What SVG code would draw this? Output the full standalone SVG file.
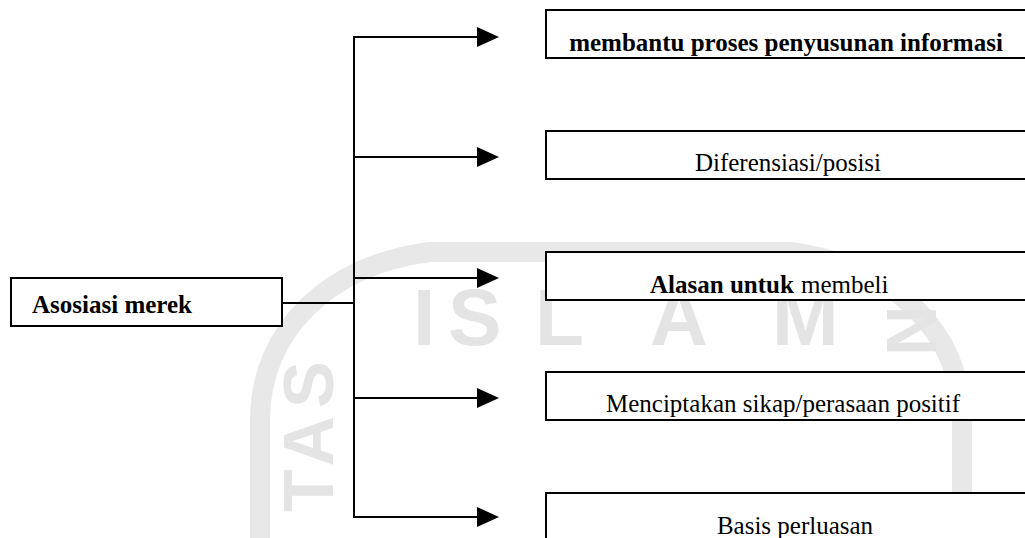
<svg xmlns="http://www.w3.org/2000/svg" width="1025" height="538" viewBox="0 0 1025 538">
  <style>
    .box { fill: #ffffff; stroke: #000000; stroke-width: 2; }
    .lbl { font-family: "Liberation Serif", "Times New Roman", serif; font-size: 25px; fill: #000000; }
    .b { font-weight: bold; }
    .conn { stroke: #000000; stroke-width: 2; fill: none; }
    .wm { font-family: "Liberation Sans", Arial, sans-serif; font-weight: bold; fill: #e4e4e4; }
  </style>
  <defs>
    <marker id="arrow" viewBox="0 0 22 20" markerWidth="22" markerHeight="20" refX="2" refY="10" markerUnits="userSpaceOnUse" orient="auto">
      <path d="M0,0 L22,10 L0,20 Z" fill="#000000"/>
    </marker>
  </defs>
  <rect x="0" y="0" width="1025" height="538" fill="#ffffff"/>

  <g id="watermark">
    <path d="M260,538 L260,420 C260,330 330,264 430,252 L790,252 C890,264 962,330 962,420 L962,538" fill="none" stroke="#e8e8e8" stroke-width="20"/>
    <text class="wm" y="345" font-size="80"><tspan x="413">I</tspan><tspan x="448">S</tspan><tspan x="535">L</tspan><tspan x="650">A</tspan><tspan x="772">M</tspan></text>
    <text class="wm" font-size="70" letter-spacing="8" transform="translate(333,512) rotate(-90)">TAS</text>
    <text class="wm" font-size="70" letter-spacing="14" transform="translate(887,272) rotate(90)">IND</text>
  </g>

  <g id="connectors">
    <line class="conn" x1="282" y1="303" x2="354" y2="303"/>
    <line class="conn" x1="354" y1="36" x2="354" y2="518"/>
    <line class="conn" x1="353" y1="37" x2="479" y2="37" marker-end="url(#arrow)"/>
    <line class="conn" x1="353" y1="157" x2="479" y2="157" marker-end="url(#arrow)"/>
    <line class="conn" x1="353" y1="278" x2="479" y2="278" marker-end="url(#arrow)"/>
    <line class="conn" x1="353" y1="398" x2="479" y2="398" marker-end="url(#arrow)"/>
    <line class="conn" x1="353" y1="517" x2="479" y2="517" marker-end="url(#arrow)"/>
  </g>

  <g id="node-asosiasi">
    <rect class="box" x="11" y="278" width="271" height="48"/>
    <text class="lbl b" x="32" y="313">Asosiasi merek</text>
  </g>
  <g id="node-informasi">
    <rect class="box" x="546" y="10" width="490" height="48"/>
    <text class="lbl b" x="786" y="51" text-anchor="middle">membantu proses penyusunan informasi</text>
  </g>
  <g id="node-diferensiasi">
    <rect class="box" x="546" y="131" width="490" height="48"/>
    <text class="lbl" x="788" y="171" text-anchor="middle" font-size="26">Diferensiasi/posisi</text>
  </g>
  <g id="node-alasan">
    <rect class="box" x="546" y="252" width="490" height="48"/>
    <text class="lbl b" x="650" y="293">Alasan untuk</text>
    <text class="lbl" x="801" y="293">membeli</text>
  </g>
  <g id="node-sikap">
    <rect class="box" x="546" y="372" width="490" height="48"/>
    <text class="lbl" x="783" y="412" text-anchor="middle">Menciptakan sikap/perasaan positif</text>
  </g>
  <g id="node-basis">
    <rect class="box" x="546" y="493" width="490" height="60"/>
    <text class="lbl" x="795" y="534" text-anchor="middle">Basis perluasan</text>
  </g>
</svg>
